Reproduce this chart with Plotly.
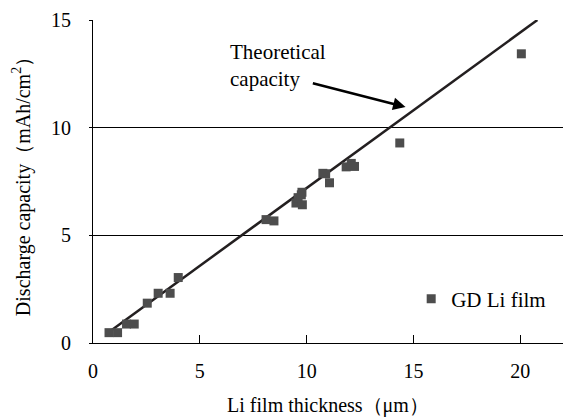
import plotly.graph_objects as go

# Measured data: Li film thickness (um) vs discharge capacity (mAh/cm2)
thickness = [0.75, 1.15, 1.57, 1.93, 2.54, 3.05, 3.61, 3.99,
             8.10, 8.47, 9.50, 9.60, 9.75, 9.80, 9.78,
             10.76, 10.89, 11.07, 11.85, 12.09, 12.24, 14.36, 20.05]
capacity = [0.48, 0.48, 0.88, 0.88, 1.85, 2.31, 2.31, 3.04,
            5.73, 5.67, 6.50, 6.75, 6.88, 6.42, 7.00,
            7.88, 7.86, 7.44, 8.18, 8.34, 8.20, 9.29, 13.43]

# Theoretical capacity line (endpoints)
theory_x = [0.8, 20.8]
theory_y = [0.55, 15.0]

xticks = [0, 5, 10, 15, 20]
yticks = [0, 5, 10, 15]

FONT = "Liberation Serif"

fig = go.Figure()
fig.add_trace(go.Scatter(
    x=theory_x, y=theory_y, mode="lines",
    line=dict(color="#231f20", width=2.5),
    showlegend=False, hoverinfo="skip"))
fig.add_trace(go.Scatter(
    x=thickness, y=capacity, mode="markers", name="GD Li film",
    marker=dict(symbol="square", size=9, color="#4d4d4d",
                line=dict(width=0))))

fig.add_annotation(
    x=6.3, y=12.9, xref="x", yref="y",
    text="Theoretical<br>capacity", showarrow=False,
    xanchor="left", yanchor="middle", align="left",
    font=dict(family=FONT, size=21, color="#000000"))
fig.add_annotation(
    x=14.63, y=10.96, ax=10.22, ay=12.08,
    xref="x", yref="y", axref="x", ayref="y",
    text="", showarrow=True, arrowhead=2, arrowsize=1,
    arrowwidth=2.5, arrowcolor="#000000")

fig.update_layout(
    width=563, height=419,
    margin=dict(l=93, r=0, t=20, b=76),
    paper_bgcolor="white", plot_bgcolor="white",
    font=dict(family=FONT, size=20, color="#000000"),
    legend=dict(x=0.677, y=0.136, xanchor="left", yanchor="middle",
                bgcolor="rgba(0,0,0,0)", font=dict(family=FONT, size=21)),
    xaxis=dict(
        range=[0, 22], tickvals=xticks, ticks="inside", ticklen=8,
        tickcolor="#000000", showgrid=False, zeroline=False,
        showline=True, linecolor="#000000", linewidth=1,
        ticklabelstandoff=10,
        tickfont=dict(family=FONT, size=20),
        title=dict(text="Li film thickness（μm）", standoff=16,
                   font=dict(family=FONT, size=20))),
    yaxis=dict(
        range=[0, 15], tickvals=yticks, ticks="outside", ticklen=3,
        tickcolor="#000000", showgrid=True, gridcolor="#000000",
        gridwidth=1, zeroline=False,
        showline=True, linecolor="#000000", linewidth=1,
        ticklabelstandoff=14,
        tickfont=dict(family=FONT, size=20),
        title=dict(text="Discharge capacity（mAh/cm<sup>2</sup>）",
                   standoff=15, font=dict(family=FONT, size=20))),
)

fig.write_html("out.html")
